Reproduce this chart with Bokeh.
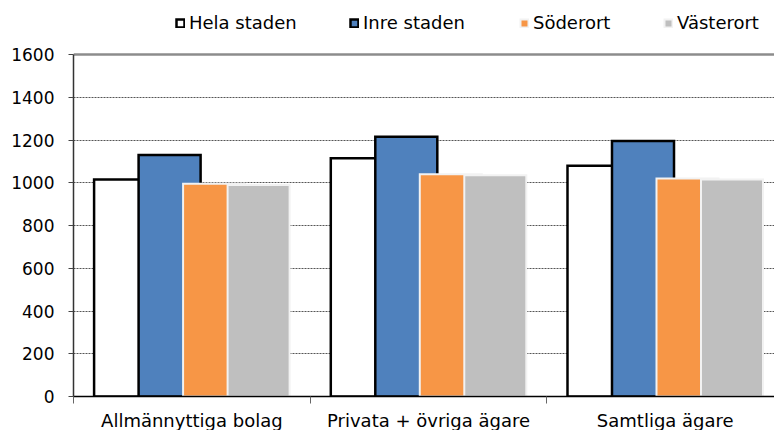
from bokeh.plotting import figure
from bokeh.models import Range1d, FixedTicker, Legend, LegendItem, Span, ColumnDataSource
from bokeh.embed import file_html
from bokeh.resources import INLINE

# Monthly rent level by owner type and city area
categories = ["Allmännyttiga bolag", "Privata + övriga ägare", "Samtliga ägare"]
series = ["Hela staden", "Inre staden", "Söderort", "Västerort"]
hela_staden = [1015, 1115, 1080]
inre_staden = [1130, 1215, 1195]
soderort = [995, 1040, 1020]
vasterort = [990, 1035, 1015]
y_ticks = [0, 200, 400, 600, 800, 1000, 1200, 1400, 1600]

values = [hela_staden, inre_staden, soderort, vasterort]
fills = ["#FFFFFF", "#4F81BD", "#F79646", "#BFBFBF"]
lines = ["#000000", "#000000", "#F2F2F2", "#F2F2F2"]
line_widths = [2.5, 2.5, 2, 2]

FONT = "DejaVu Sans"
CAT_PX = 236.7          # pixel width of one category slot
FRAME_W = 701
AXIS_PX = 342           # pixel height of the 0..1600 value axis
FRAME_H = 396           # frame also covers the legend strip above the axis
Y_MAX = y_ticks[-1]
Y_VIEW = Y_MAX * FRAME_H / AXIS_PX
BAR_W = 0.262
STEP = 0.188

p = figure(
    frame_width=FRAME_W, frame_height=FRAME_H,
    x_range=Range1d(0, FRAME_W / CAT_PX), y_range=Range1d(0, Y_VIEW),
    output_backend="svg", toolbar_location=None,
    min_border_left=73, min_border_top=0, min_border_right=0, min_border_bottom=34,
)
p.outline_line_color = None
p.background_fill_color = "white"
p.border_fill_color = "white"

renderers = []
for k, (name, vals) in enumerate(zip(series, values)):
    offset = (k - 1.5) * STEP
    src = ColumnDataSource(dict(
        x=[i + 0.5 + offset for i in range(len(categories))],
        top=vals,
    ))
    r = p.vbar(x="x", top="top", width=BAR_W, bottom=0, source=src,
               fill_color=fills[k], line_color=lines[k], line_width=line_widths[k],
               line_join="miter")
    renderers.append(r)

# y axis (line limited to the value range)
p.yaxis.ticker = FixedTicker(ticks=y_ticks)
p.yaxis.bounds = (0, Y_MAX)
p.yaxis.major_label_text_font = FONT
p.yaxis.major_label_text_font_size = "17px"
p.yaxis.major_label_text_color = "#000000"
p.yaxis.major_tick_out = 5
p.yaxis.major_tick_in = 0
p.yaxis.major_tick_line_color = "#444444"
p.yaxis.minor_tick_line_color = None
p.yaxis.axis_line_color = "#333333"
p.yaxis.axis_line_width = 1.5
p.yaxis.major_label_standoff = 14

# x axis: labels centred in each slot, short ticks on slot boundaries
p.xaxis.ticker = FixedTicker(ticks=[i + 0.5 for i in range(len(categories))],
                             minor_ticks=list(range(len(categories) + 1)))
p.xaxis.major_label_overrides = {i + 0.5: c for i, c in enumerate(categories)}
p.xaxis.major_label_text_font = FONT
p.xaxis.major_label_text_font_size = "18px"
p.xaxis.major_label_text_color = "#000000"
p.xaxis.major_tick_line_color = None
p.xaxis.major_tick_out = 0
p.xaxis.major_tick_in = 0
p.xaxis.minor_tick_out = 7
p.xaxis.minor_tick_in = 0
p.xaxis.minor_tick_line_color = "#666666"
p.xaxis.axis_line_color = "#000000"
p.xaxis.axis_line_width = 1.5
p.xaxis.major_label_standoff = 6

# grid
p.xgrid.grid_line_color = None
p.ygrid.ticker = FixedTicker(ticks=y_ticks[1:-1])
p.ygrid.grid_line_color = "#555555"
p.ygrid.grid_line_width = 1
p.ygrid.grid_line_dash = "2 1"
p.add_layout(Span(location=Y_MAX, dimension="width", line_color="#8C8C8C",
                  line_width=2.5, level="underlay"))

# legend entries placed individually in the strip above the value range
legend_x = [102, 276, 446, 590]
for name, r, lx in zip(series, renderers, legend_x):
    lg = Legend(items=[LegendItem(label=name, renderers=[r])],
                location=(lx, 363), orientation="horizontal",
                padding=0, margin=0, spacing=0,
                glyph_width=10, glyph_height=10, label_standoff=4,
                label_text_font=FONT, label_text_font_size="18px",
                label_text_color="#000000", label_height=20,
                border_line_color=None, background_fill_alpha=0)
    p.add_layout(lg)

open("out.html", "w").write(file_html(p, INLINE))
